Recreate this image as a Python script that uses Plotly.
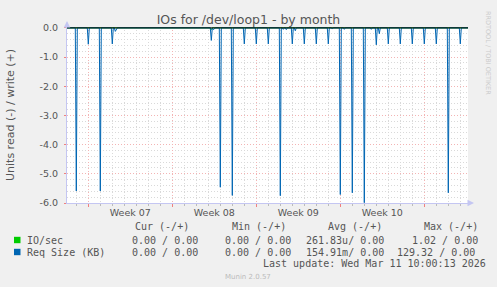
import plotly.graph_objects as go
from datetime import datetime, timedelta

# ---------------- data ----------------
x_start = "2026-02-06 05:24"
x_end = "2026-03-11 15:24"

# Req Size (KB) read spikes (plotted negative)
req_times = [
    "2026-02-07 00:00", "2026-02-08 00:00", "2026-02-09 00:00", "2026-02-10 00:00",
    "2026-02-10 06:00", "2026-02-10 08:00",
    "2026-02-18 06:00", "2026-02-18 10:00", "2026-02-18 12:00",
    "2026-02-19 00:00", "2026-02-20 00:00", "2026-02-21 00:00", "2026-02-22 00:00",
    "2026-02-23 00:00", "2026-02-24 00:00", "2026-02-24 06:00", "2026-02-24 12:00",
    "2026-02-25 00:00", "2026-02-25 06:00", "2026-02-26 00:00", "2026-02-27 00:00",
    "2026-02-28 00:00", "2026-02-28 08:00", "2026-03-01 00:00", "2026-03-01 08:00",
    "2026-03-02 00:00", "2026-03-03 00:00", "2026-03-03 14:00", "2026-03-04 00:00",
    "2026-03-04 06:00", "2026-03-05 00:00", "2026-03-06 00:00", "2026-03-07 00:00",
    "2026-03-08 00:00", "2026-03-09 00:00", "2026-03-10 00:00", "2026-03-11 00:00",
]
req_values = [
    -5.59, -0.56, -5.59, -0.55,
    -0.12, -0.05,
    -0.43, -0.06, -0.04,
    -5.46, -5.74, -0.55, -0.55,
    -0.55, -5.75, -0.05, -0.06,
    -0.55, -0.10, -0.55, -0.55,
    -0.55, -0.04, -5.71, -0.05,
    -5.65, -5.99, -0.05, -0.58,
    -0.20, -0.55, -0.55, -0.55,
    -0.55, -0.55, -5.65, -0.55,
]

# IO/sec read values (plotted negative)
io_times = ["2026-02-18 06:00"]
io_values = [-0.06]

week_labels = ["Week 07", "Week 08", "Week 09", "Week 10"]
week_label_pos = ["2026-02-11 12:00", "2026-02-18 12:00", "2026-02-25 12:00", "2026-03-04 12:00"]

y_ticks = [0, -1, -2, -3, -4, -5, -6]
y_ticktext = ["0.0", "-1.0", "-2.0", "-3.0", "-4.0", "-5.0", "-6.0"]

series_names = ["IO/sec", "Req Size (KB)"]
series_colors = ["#00cc00", "#0066b3"]
col_headers = ["Cur (-/+)", "Min (-/+)", "Avg (-/+)", "Max (-/+)"]
cur_vals = ["0.00 / 0.00", "0.00 / 0.00"]
min_vals = ["0.00 / 0.00", "0.00 / 0.00"]
avg_vals = ["261.83u/ 0.00", "154.91m/ 0.00"]
max_vals = ["1.02 / 0.00", "129.32 / 0.00"]
last_update = "Last update: Wed Mar 11 10:00:13 2026"

# ---------------- helpers ----------------
FMT = "%Y-%m-%d %H:%M"
STEP = timedelta(hours=2)


def build(times, values):
    pts = {}
    for t, v in zip(times, values):
        pts[datetime.strptime(t, FMT)] = v
    for t in list(pts):
        for d in (-STEP, STEP):
            if t + d not in pts:
                pts[t + d] = 0.0
    s = datetime.strptime(x_start, FMT)
    e = datetime.strptime(x_end, FMT)
    pts.setdefault(s, 0.0)
    pts.setdefault(e, 0.0)
    keys = sorted(pts)
    return keys, [pts[k] for k in keys]


PL, PR, PT, PB = 67, 468, 27, 203
W, H = 497, 287


def px(x):
    return (x - PL) / (PR - PL)


def py(y):
    return (PB - y) / (PB - PT)


TXT = "#555555"
MONO = "DejaVu Sans Mono"
SANS = "DejaVu Sans"
AXC = "#c4c6f2"
GRID = "#d9d9d9"
MGRID = "#f3b4b4"

fig = go.Figure()

rx, ry = build(req_times, req_values)
ix, iy = build(io_times, io_values)

fig.add_trace(go.Scatter(x=ix, y=iy, mode="lines", line=dict(color="#00cc00", width=1),
                         xaxis="x", yaxis="y", showlegend=False, hoverinfo="skip"))
fig.add_trace(go.Scatter(x=rx, y=ry, mode="lines", line=dict(color="#0066b3", width=1),
                         xaxis="x", yaxis="y", showlegend=False, hoverinfo="skip"))
# empty carrier trace so the week-label axis is drawn
fig.add_trace(go.Scatter(x=[], y=[], mode="lines", xaxis="x2", yaxis="y",
                         showlegend=False, hoverinfo="skip"))

annotations = []


def label(x, y, text, size=10, family=MONO, color=TXT, anchor="left", angle=0):
    annotations.append(dict(x=px(x), y=py(y), xref="paper", yref="paper", text=text,
                            showarrow=False, xanchor=anchor, yanchor="middle",
                            borderpad=0, textangle=angle,
                            font=dict(family=family, size=size, color=color)))


# legend headers
for h, xpos in zip(col_headers, [134, 231, 327.3, 422.7]):
    label(xpos, 227, h)

rows_y = [240, 252]
max_x = [410.7, 395.7]
for i in range(2):
    label(26, rows_y[i], series_names[i])
    label(131, rows_y[i], cur_vals[i])
    label(224, rows_y[i], min_vals[i])
    label(305.3, rows_y[i], avg_vals[i])
    label(max_x[i], rows_y[i], max_vals[i])

label(261.7, 263.5, last_update)
label(247.8, 276.5, "Munin 2.0.57", size=7, family=SANS, color="#bbbbbb", anchor="center")
label(488, 53, "RRDTOOL / TOBI OETIKER", size=6.5, family=SANS, color="#cccccc",
      anchor="center", angle=90)
label(10.5, 115.5, "Units read (-) / write (+)", size=11, family=SANS, color=TXT,
      anchor="center", angle=-90)

# axis arrows
annotations.append(dict(x=0, y=py(21), xref="paper", yref="paper", text="", showarrow=True,
                        ax=0, ay=7, arrowhead=2, arrowsize=1.3, arrowwidth=1, arrowcolor=AXC))
annotations.append(dict(x=px(474), y=0, xref="paper", yref="paper", text="", showarrow=True,
                        ax=-7, ay=0, arrowhead=2, arrowsize=1.3, arrowwidth=1, arrowcolor=AXC))

shapes = []
for i in range(2):
    cy = rows_y[i]
    shapes.append(dict(type="rect", xref="paper", yref="paper",
                       x0=px(14), x1=px(20.5), y0=py(cy - 3.2), y1=py(cy + 3.2),
                       fillcolor=series_colors[i], line=dict(width=0)))
# zero line
shapes.append(dict(type="line", xref="x", yref="y", x0=x_start, x1=x_end, y0=0, y1=0,
                   line=dict(color="#000000", width=1), layer="above"))

fig.update_layout(
    width=W, height=H, autosize=False,
    margin=dict(l=PL, r=W - PR, t=PT, b=H - PB, pad=0),
    paper_bgcolor="#f0f0f0", plot_bgcolor="#ffffff",
    title=dict(text="IOs for /dev/loop1 - by month", x=0.5, xref="container", xanchor="center",
               y=1 - 19.5 / H, yref="container", yanchor="middle",
               font=dict(family=SANS, size=12.5, color=TXT)),
    xaxis=dict(type="date", range=[x_start, x_end], tickmode="linear",
               tick0="2026-02-08", dtick=7 * 86400000, showticklabels=False,
               showgrid=True, gridcolor=MGRID, griddash="1px,2px", gridwidth=1,
               ticks="outside", ticklen=3, tickcolor="#f08080", tickwidth=1,
               showline=True, linecolor=AXC, linewidth=1, zeroline=False,
               minor=dict(dtick=86400000, tick0="2026-02-08", showgrid=True,
                          gridcolor=GRID, griddash="1px,2px", gridwidth=1,
                          ticks="outside", ticklen=2, tickcolor="#bbbbbb")),
    xaxis2=dict(type="date", range=[x_start, x_end], overlaying="x", anchor="y", side="bottom",
                tickmode="array", tickvals=week_label_pos, ticktext=week_labels,
                ticks="", showgrid=False, showline=False, zeroline=False,
                ticklabelstandoff=2,
                tickfont=dict(family=SANS, size=9.5, color=TXT)),
    yaxis=dict(range=[-6, 0.03], tickmode="array", tickvals=y_ticks, ticktext=y_ticktext,
               showgrid=True, gridcolor=MGRID, griddash="1px,2px", gridwidth=1,
               ticks="outside", ticklen=2, tickcolor="#f08080",
               showline=True, linecolor=AXC, linewidth=1, zeroline=False,
               ticklabelstandoff=4,
               tickfont=dict(family=SANS, size=9.5, color=TXT),
               minor=dict(dtick=0.2, tick0=0, showgrid=True, gridcolor=GRID,
                          griddash="1px,2px", gridwidth=1)),
    annotations=annotations,
    shapes=shapes,
    showlegend=False,
)

fig.write_html("out.html")
